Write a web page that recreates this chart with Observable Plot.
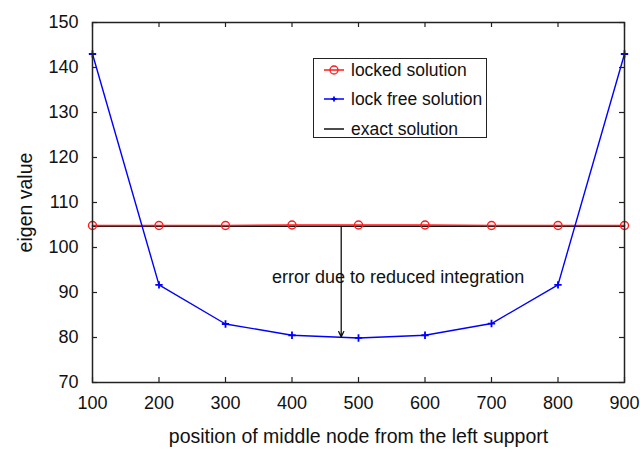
<!DOCTYPE html>
<html>
<head>
<meta charset="utf-8">
<script src="https://cdn.jsdelivr.net/npm/d3@7"></script>
<script src="https://cdn.jsdelivr.net/npm/@observablehq/plot@0.6"></script>
<style>
  html, body { margin: 0; padding: 0; background: #fff; }
  #wrap { position: relative; width: 640px; height: 450px; font-family: "Liberation Sans", Arial, Helvetica, sans-serif; }
  #legend { position: absolute; left: 313px; top: 58px; width: 174px; height: 80px; border: 1px solid #222; background: #fff; box-sizing: border-box; }
  .row { position: absolute; left: 0; height: 20px; display: flex; align-items: center; font-size: 17.5px; color: #111; }
  .row svg { margin-left: 10px; margin-right: 7px; }
</style>
</head>
<body>
<div id="wrap"></div>
<script>
// ---- data ----
const positions = [100, 200, 300, 400, 500, 600, 700, 800, 900];
const lockedValues = [104.9, 104.9, 104.9, 105.0, 105.0, 105.0, 104.9, 104.9, 104.9];
const lockFreeValues = [143.0, 91.7, 83.0, 80.5, 79.9, 80.5, 83.1, 91.7, 143.0];
const exactX = [100, 900];
const exactValues = [104.7, 104.7];
const xTicks = [100, 200, 300, 400, 500, 600, 700, 800, 900];
const yTicks = [70, 80, 90, 100, 110, 120, 130, 140, 150];
const seriesNames = ["locked solution", "lock free solution", "exact solution"];
const arrowX = [474];
const arrowFrom = [104.6];
const arrowTo = [80.1];
const annotationText = ["error due to reduced integration"];
const annotationX = [370];
const annotationY = [93.3];
const xLabel = "position of middle node from the left support";
const yLabel = "eigen value";

const locked = positions.map((x, i) => ({x, y: lockedValues[i]}));
const lockFree = positions.map((x, i) => ({x, y: lockFreeValues[i]}));
const exact = exactX.map((x, i) => ({x, y: exactValues[i]}));
const arrows = arrowX.map((x, i) => ({x, y1: arrowFrom[i], y2: arrowTo[i]}));
const annots = annotationText.map((t, i) => ({t, x: annotationX[i], y: annotationY[i]}));

const W = 640, H = 450, mL = 92, mR = 16, mT = 22, mB = 68;
const plotH = H - mT - mB, plotW = W - mL - mR;
const tick = 5;
const font = "Liberation Sans, Arial, Helvetica, sans-serif";

const chart = Plot.plot({
  width: W, height: H,
  marginLeft: mL, marginRight: mR, marginTop: mT, marginBottom: mB,
  style: {fontFamily: font, background: "white", color: "#111"},
  x: {domain: [100, 900], ticks: xTicks},
  y: {domain: [70, 150], ticks: yTicks},
  marks: [
    // inward ticks on all four sides
    Plot.tickX(xTicks, {x: d => d, insetTop: plotH - tick, stroke: "#222", strokeWidth: 1.2}),
    Plot.tickX(xTicks, {x: d => d, insetBottom: plotH - tick, stroke: "#222", strokeWidth: 1.2}),
    Plot.tickY(yTicks, {y: d => d, insetRight: plotW - tick, stroke: "#222", strokeWidth: 1.2}),
    Plot.tickY(yTicks, {y: d => d, insetLeft: plotW - tick, stroke: "#222", strokeWidth: 1.2}),
    Plot.axisX({ticks: xTicks, tickSize: 0, tickPadding: 14, fontSize: 18, label: null}),
    Plot.axisY({ticks: yTicks, tickSize: 0, tickPadding: 14, fontSize: 18, label: null}),
    Plot.text([xLabel], {text: d => d, frameAnchor: "bottom", textAnchor: "middle", dy: 60, fontSize: 19.5, fill: "#111"}),
    Plot.text([yLabel], {text: d => d, frameAnchor: "left", textAnchor: "middle", dx: -67, rotate: -90, fontSize: 19.5, fill: "#111"}),
    // exact solution
    Plot.line(exact, {x: "x", y: "y", stroke: "#111", strokeWidth: 1.5}),
    // locked
    Plot.line(locked, {x: "x", y: "y", stroke: "#ff1a1a", strokeWidth: 1.6}),
    Plot.dot(locked, {x: "x", y: "y", r: 4, stroke: "#ff1a1a", strokeWidth: 1.4, fill: "none"}),
    // lock free
    Plot.line(lockFree, {x: "x", y: "y", stroke: "#0000ff", strokeWidth: 1.4}),
    Plot.dot(lockFree, {x: "x", y: "y", symbol: "plus", r: 2.5, stroke: "#0000ff", strokeWidth: 1.8}),
    // annotation
    Plot.arrow(arrows, {x1: "x", x2: "x", y1: "y1", y2: "y2", stroke: "#111", strokeWidth: 1.3, headLength: 7, headAngle: 50}),
    Plot.text(annots, {x: "x", y: "y", text: "t", textAnchor: "start", fontSize: 18, fill: "#111"}),
    Plot.frame({stroke: "#222", strokeWidth: 1.5})
  ]
});

const wrap = document.getElementById("wrap");
wrap.appendChild(chart);

// legend
const legend = document.createElement("div");
legend.id = "legend";
const swatches = [
  `<svg width="20" height="12"><line x1="0" y1="6" x2="20" y2="6" stroke="#ff1a1a" stroke-width="1.5"/><circle cx="10" cy="6" r="4" fill="none" stroke="#ff1a1a" stroke-width="1.3"/></svg>`,
  `<svg width="20" height="12"><line x1="0" y1="6" x2="20" y2="6" stroke="#0000ff" stroke-width="1.5"/><path d="M10,3.5V8.5M7.5,6H12.5" stroke="#0000ff" stroke-width="1.8"/></svg>`,
  `<svg width="20" height="12"><line x1="0" y1="6" x2="20" y2="6" stroke="#111" stroke-width="1.5"/></svg>`
];
const rowTops = [1, 30, 60];
seriesNames.forEach((name, i) => {
  const r = document.createElement("div");
  r.className = "row";
  r.style.top = rowTops[i] + "px";
  r.innerHTML = swatches[i] + `<span>${name}</span>`;
  legend.appendChild(r);
});
wrap.appendChild(legend);
</script>
</body>
</html>
